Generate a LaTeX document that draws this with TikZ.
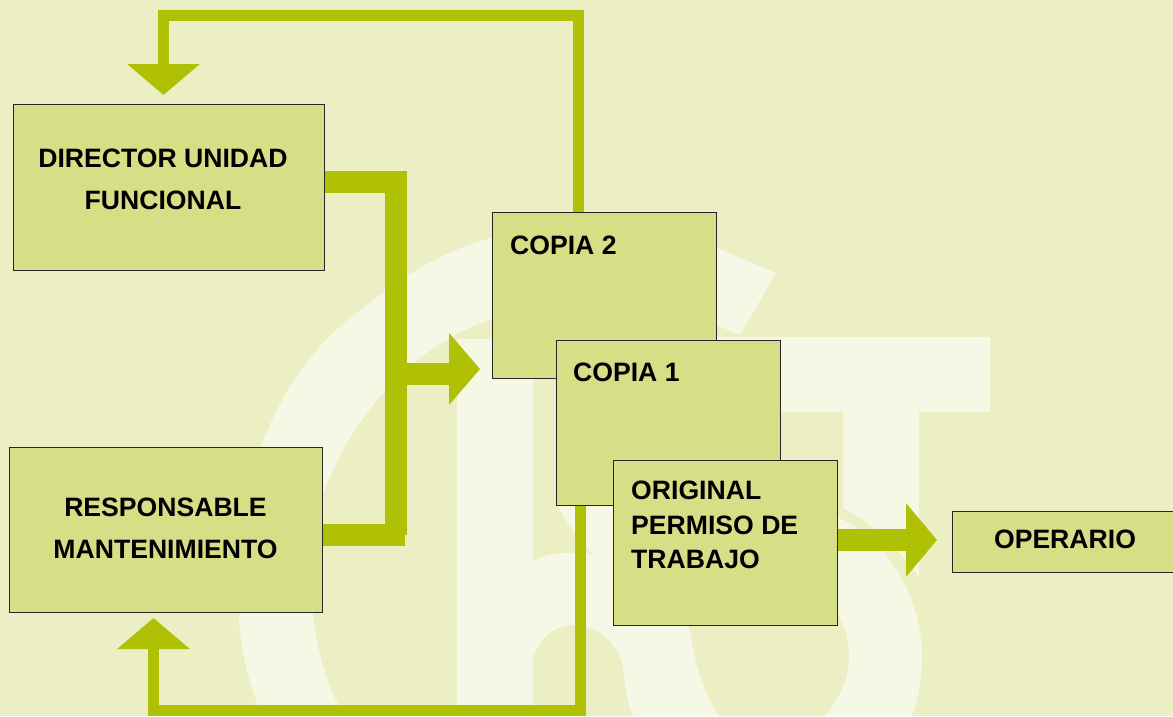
\documentclass[tikz,border=0pt]{standalone}
\usepackage{fontspec}
\setmainfont{Liberation Sans}
\usetikzlibrary{arrows.meta}
\definecolor{paper}{RGB}{235,239,195}
\definecolor{wmlight}{RGB}{246,248,230}
\definecolor{boxfill}{RGB}{214,223,133}
\definecolor{barcol}{RGB}{175,192,5}
\tikzset{
  pbox/.style={draw=black!85,line width=1pt,fill=boxfill,inner sep=0pt},
  ptext/.style={font=\fontsize{26.6}{42}\selectfont\bfseries,text=black,inner sep=0pt,align=center},
  bar/.style={draw=barcol,line width=22pt,line join=miter},
  feed/.style={draw=barcol,line width=11pt,line join=miter,
    -{Triangle[width=71pt,length=31pt,fill=barcol]}},
  wmark/.style={fill=wmlight},
  wmhole/.style={fill=paper},
  head/.style={fill=barcol}
}
\begin{document}
\begin{tikzpicture}[x=1pt,y=-1pt]
      \useasboundingbox (0,0) rectangle (1173,716);
      \fill[paper] (0,0) rectangle (1173,716);
      \fill[wmark] (262,716) .. controls (248,680) and (239,645) .. (239,613)
        .. controls (239,550) and (246,495) .. (261,447)
        .. controls (280,395) and (310,350) .. (348,320)
        .. controls (390,285) and (440,250) .. (492,238)
        .. controls (570,215) and (650,220) .. (717,248) -- (776,273) -- (740,335) -- (717,325)
        .. controls (650,295) and (560,295) .. (490,320)
        .. controls (425,340) and (355,405) .. (322,497)
        .. controls (315,530) and (311,575) .. (313,613)
        .. controls (316,650) and (328,690) .. (345,716) -- cycle;
      \fill[wmark] (700,337) -- (990,337) -- (990,412) -- (919,412) -- (919,577)
        .. controls (895,545) and (870,522) .. (843,508) -- (843,412) -- (700,412) -- cycle;
      \fill[wmark] (457,339) rectangle (533,716);
      \fill[wmark] (533,561) .. controls (545,555) and (555,553) .. (567,553) -- (593,554)
        .. controls (575,535) and (565,520) .. (557,505) -- (557,480) -- (800,480) -- (837,517)
        .. controls (890,540) and (922,600) .. (922,657) .. controls (922,680) and (918,700) .. (912,716)
        -- (533,716) -- cycle;
      \fill[wmhole] (533,657) .. controls (540,638) and (555,625) .. (573,625)
        .. controls (600,625) and (618,645) .. (623,667) .. controls (625,690) and (628,705) .. (633,716)
        -- (533,716) -- cycle;
      \fill[wmhole] (688,620) .. controls (693,650) and (700,690) .. (720,716) -- (825,716)
        .. controls (842,695) and (849,675) .. (849,657) .. controls (849,640) and (845,625) .. (837,613)
        -- (760,590) -- cycle;
      \node[pbox,minimum width=311pt,minimum height=166pt] (director) at (168.5,187) {};
      \node[pbox,minimum width=313pt,minimum height=165pt] (responsable) at (165.5,529.5) {};
      \node[pbox,minimum width=224pt,minimum height=166pt] (copia2) at (604,295) {};
      \node[pbox,minimum width=224pt,minimum height=165pt] (copia1) at (668,422.5) {};
      \node[pbox,minimum width=224pt,minimum height=165pt] (original) at (725,542.5) {};
      \node[pbox,minimum width=226pt,minimum height=61pt] (operario) at (1065,541.5) {};
      \node[ptext] (directortxt) at (163,179.5) {DIRECTOR UNIDAD\\FUNCIONAL};
      \node[ptext] (responsabletxt) at (165.5,528) {RESPONSABLE\\MANTENIMIENTO};
      \node[ptext,anchor=base west] (copia2txt) at (510,254) {COPIA 2};
      \node[ptext,anchor=base west] (copia1txt) at (573,381) {COPIA 1};
      \node[ptext,anchor=west,align=left,font=\fontsize{26.6}{34.5}\selectfont\bfseries] (originaltxt) at (631,525) {ORIGINAL\\PERMISO DE\\TRABAJO};
      \node[ptext,anchor=base] (operariotxt) at (1065,548) {OPERARIO};
      \coordinate (busa) at (395.5,182);
      \coordinate (busb) at (395.5,534.5);
      \coordinate (busc) at (405,534.5);
      \coordinate (busout) at (407,373.5);
      \coordinate (midbase) at (449,373.5);
      \coordinate (toptr) at (578.5,15.5);
      \coordinate (toptl) at (163.5,15.5);
      \coordinate (dirin) at (163.5,95);
      \coordinate (botr) at (580,710.5);
      \coordinate (botl) at (153.5,710.5);
      \coordinate (respin) at (153.5,618);
      \coordinate (oporig) at (937,540);
      \begin{scope}
        \draw[bar] (director.east |- busa) -- (busa) -- (busb);
        \draw[bar] (responsable.east |- busc) -- (busc);
        \draw[bar] (busout) -- (midbase);
        \fill[head] (449,333) -- (480,369) -- (449,405) -- cycle;
        \draw[feed] (copia2.north -| toptr) -- (toptr) -- (toptl) -- (dirin);
        \draw[feed] (copia1.south -| botr) -- (botr) -- (botl) -- (respin);
        \draw[bar,-{Triangle[width=72pt,length=31pt,fill=barcol]}] (original.east |- oporig) -- (oporig);
      \end{scope}
    \end{tikzpicture}
\end{document}
